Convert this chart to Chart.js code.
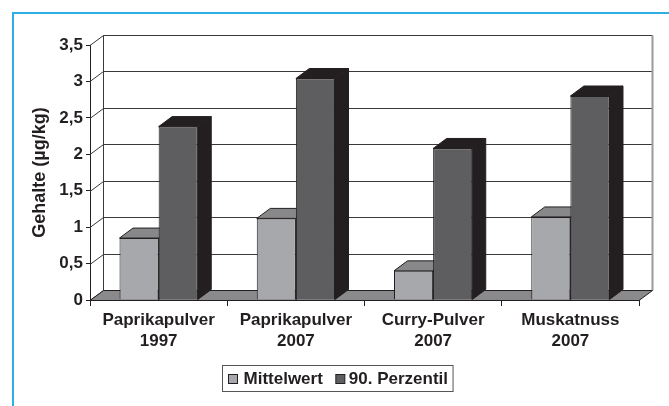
<!DOCTYPE html>
<html>
<head>
<meta charset="utf-8">
<script src="https://cdn.jsdelivr.net/npm/chart.js@4/dist/chart.umd.min.js"></script>
<style>
  html, body { margin: 0; padding: 0; background: #fff; }
  #wrap { width: 669px; height: 406px; }
</style>
</head>
<body>
<div id="wrap"><canvas id="chart"></canvas></div>
<script>
const categories = [
    ['Paprikapulver', '1997'],
    ['Paprikapulver', '2007'],
    ['Curry-Pulver', '2007'],
    ['Muskatnuss', '2007']
];
const seriesNames = ['Mittelwert', '90. Perzentil'];
const mittelwert = [0.85, 1.12, 0.40, 1.14];
const perzentil90 = [2.38, 3.04, 2.08, 2.80];
const yTicks = [0, 0.5, 1, 1.5, 2, 2.5, 3, 3.5];

const ink = '#231f20';
const fonts = '"Liberation Sans", Arial, sans-serif';
// front / top / side shades of each series
const shades = [
    { front: '#a7a8ab', top: '#88888b', side: '#6f6f72' },
    { front: '#5e5e61', top: '#231f20', side: '#231f20' }
];
const depth = { dx: 13.5, dy: -10 };

function poly(ctx, pts, fill) {
    ctx.beginPath();
    ctx.moveTo(pts[0][0], pts[0][1]);
    pts.slice(1).forEach(p => ctx.lineTo(p[0], p[1]));
    ctx.closePath();
    ctx.fillStyle = fill;
    ctx.fill();
    ctx.strokeStyle = ink;
    ctx.lineWidth = 1;
    ctx.stroke();
}

// walls, floor and the top/side faces of the boxes
const box3d = {
    id: 'box3d',
    beforeDatasetsDraw(chart) {
        const { ctx, chartArea: a, scales: { y } } = chart;
        const { dx, dy } = depth;
        ctx.save();

        // gridlines on the left and back walls
        ctx.strokeStyle = '#3a3a3a';
        ctx.lineWidth = 1;
        yTicks.forEach(v => {
            const py = Math.round(y.getPixelForValue(v)) + 0.5;
            ctx.beginPath();
            ctx.moveTo(a.left, py);
            ctx.lineTo(a.left + dx, py + dy);
            if (v > 0) ctx.lineTo(a.right + dx, py + dy);
            ctx.stroke();
        });
        const top = Math.round(y.getPixelForValue(3.5)) + 0.5 + dy;
        const bot = Math.round(y.getPixelForValue(0)) + 0.5 + dy;
        ctx.beginPath();
        ctx.moveTo(a.left + dx, bot);
        ctx.lineTo(a.left + dx, top);
        ctx.stroke();
        ctx.strokeStyle = '#9a9a9a';
        ctx.lineWidth = 2;
        ctx.beginPath();
        ctx.moveTo(a.right + dx, top);
        ctx.lineTo(a.right + dx, bot);
        ctx.stroke();

        // floor
        const fy = Math.round(y.getPixelForValue(0)) + 0.5;
        poly(ctx, [[a.left, fy], [a.left + dx, fy + dy], [a.right + dx, fy + dy], [a.right, fy]], '#8a8a8c');

        chart.data.datasets.forEach((ds, i) => {
            chart.getDatasetMeta(i).data.forEach(bar => {
                const l = bar.x - bar.width / 2, r = bar.x + bar.width / 2;
                const t = bar.y, b = bar.base;
                poly(ctx, [[r, t], [r + dx, t + dy], [r + dx, b + dy], [r, b]], shades[i].side);
                poly(ctx, [[l, t], [l + dx, t + dy], [r + dx, t + dy], [r, t]], shades[i].top);
            });
        });
        ctx.restore();
    },
    afterDraw(chart) {
        const ctx = chart.ctx;
        ctx.save();

        // legend box
        ctx.font = 'bold 17px ' + fonts;
        const w0 = ctx.measureText(seriesNames[0]).width;
        const w1 = ctx.measureText(seriesNames[1]).width;
        const boxW = 6 + 9 + 6 + w0 + 13 + 9 + 4 + w1 + 5;
        const bx = Math.round(337 - boxW / 2) + 0.5, by = 365.5, bh = 26;
        ctx.fillStyle = '#fff';
        ctx.fillRect(bx, by, boxW, bh);
        ctx.strokeStyle = '#555';
        ctx.lineWidth = 1;
        ctx.strokeRect(bx, by, boxW, bh);
        let x = bx + 6;
        const sq = (fill) => {
            ctx.fillStyle = fill;
            ctx.fillRect(x, by + 9, 9, 9);
            ctx.strokeStyle = ink;
            ctx.strokeRect(x, by + 9, 9, 9);
        };
        ctx.textBaseline = 'middle';
        sq(shades[0].front);
        x += 15;
        ctx.fillStyle = ink;
        ctx.fillText(seriesNames[0], x, by + bh / 2 + 1);
        x += w0 + 13;
        sq(shades[1].front);
        x += 13;
        ctx.fillStyle = ink;
        ctx.fillText(seriesNames[1], x, by + bh / 2 + 1);

        // cyan frame
        ctx.strokeStyle = '#2eafe3';
        ctx.lineWidth = 2;
        ctx.beginPath();
        ctx.moveTo(13, 406);
        ctx.lineTo(13, 13);
        ctx.lineTo(669, 13);
        ctx.stroke();
        ctx.restore();
    }
};

new Chart(document.getElementById('chart'), {
    type: 'bar',
    data: {
        labels: categories,
        datasets: [
            {
                label: seriesNames[0],
                data: mittelwert,
                backgroundColor: shades[0].front,
                borderColor: ink,
                borderWidth: 1
            },
            {
                label: seriesNames[1],
                data: perzentil90,
                backgroundColor: shades[1].front,
                borderColor: ink,
                borderWidth: 1
            }
        ]
    },
    options: {
        responsive: true,
        maintainAspectRatio: false,
        animation: false,
        datasets: { bar: { barPercentage: 1, categoryPercentage: 0.57 } },
        layout: { padding: { left: 0, right: 30, top: 45, bottom: 0 } },
        plugins: { legend: { display: false }, tooltip: { enabled: false } },
        scales: {
            x: {
                offset: true,
                grid: { offset: true, drawOnChartArea: false, tickLength: 6, color: ink },
                border: { color: ink },
                ticks: {
                    color: ink,
                    font: { family: fonts, size: 17, weight: 'bold', lineHeight: 1.22 },
                    padding: 4,
                    maxRotation: 0,
                    autoSkip: false
                },
                afterFit(scale) { scale.height = 106; }
            },
            y: {
                min: 0,
                max: 3.5,
                grid: { drawOnChartArea: false, tickLength: 4, color: ink },
                border: { color: ink },
                ticks: {
                    stepSize: 0.5,
                    color: ink,
                    padding: 3,
                    font: { family: fonts, size: 17, weight: 'bold' },
                    callback: v => String(v).replace('.', ',')
                },
                title: {
                    display: true,
                    text: 'Gehalte (µg/kg)',
                    color: ink,
                    font: { family: fonts, size: 18, weight: 'bold' },
                    padding: { top: 29, bottom: 0 }
                },
                afterFit(scale) { scale.width = 90; }
            }
        }
    },
    plugins: [box3d]
});
</script>
</body>
</html>
